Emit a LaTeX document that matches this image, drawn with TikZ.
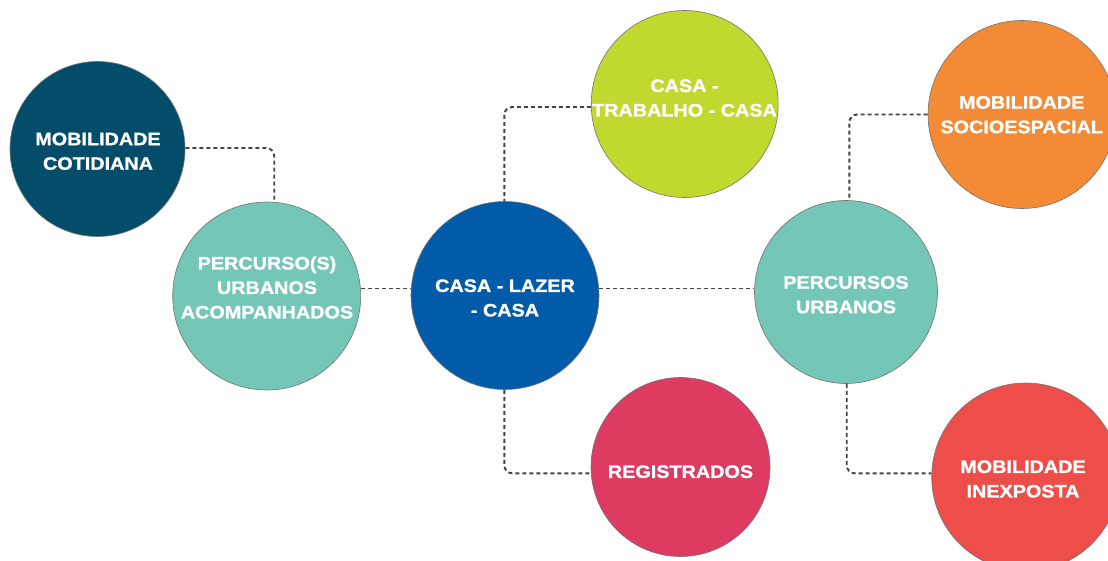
\documentclass[tikz,border=0pt]{standalone}
\usepackage{fontspec}
\newfontfamily\lblfont[FakeStretch=1.1, BoldFeatures={FakeBold=1.2}]{Liberation Sans}
\definecolor{cDark}{HTML}{034D6A}
\definecolor{cTeal}{HTML}{74C6B7}
\definecolor{cBlue}{HTML}{025BA8}
\definecolor{cLime}{HTML}{C2D82F}
\definecolor{cOrange}{HTML}{F38A35}
\definecolor{cPink}{HTML}{DD3B62}
\definecolor{cRed}{HTML}{EE4E4A}
\definecolor{cLine}{HTML}{444444}
\begin{document}
\begin{tikzpicture}[x=1pt,y=-1pt,
  bubble/.style={circle, draw=black!55, line width=0.6pt, inner sep=0pt, minimum size=#1},
  lbl/.style={text=white, font=\lblfont\bfseries\fontsize{18}{24.5}\selectfont, align=center, inner sep=0pt},
  conn/.style={draw=cLine, line width=1.9pt, dash pattern=on 4pt off 3pt, rounded corners=8pt}]
\useasboundingbox (0,0) rectangle (1108,561);
\clip (0,0) rectangle (1108,561);
% circles
\node[bubble=175, fill=cDark]   (mc)  at (97.5,149) {};
\node[bubble=188, fill=cTeal]   (pua) at (266.7,296) {};
\node[bubble=188, fill=cBlue]   (clc) at (505,295.5) {};
\node[bubble=187, fill=cLime]   (ctc) at (684.7,104) {};
\node[bubble=183, fill=cTeal]   (pu)  at (846,292) {};
\node[bubble=188, fill=cOrange] (ms)  at (1022,114.5) {};
\node[bubble=179, fill=cPink]   (reg) at (680.5,467) {};
\node[bubble=188, fill=cRed]    (mi)  at (1025.7,477) {};
% labels
\node[lbl] (mct)  at (98,151.3)   {MOBILIDADE\\COTIDIANA};
\node[lbl] (puat) at (267,287.5)  {PERCURSO(S)\\URBANOS\\ACOMPANHADOS};
\node[lbl] (clct) at (505,298)    {CASA - LAZER\\- CASA};
\node[lbl] (ctct) at (684.5,98)   {CASA -\\TRABALHO - CASA};
\node[lbl] (put)  at (846,294.7)  {PERCURSOS\\URBANOS};
\node[lbl] (mst)  at (1021.7,114.7) {MOBILIDADE\\SOCIOESPACIAL};
\node[lbl] (regt) at (680.5,471.7) {REGISTRADOS};
\node[lbl] (mit)  at (1023,479)   {MOBILIDADE\\INEXPOSTA};
% connectors
\draw[conn] ([yshift=1pt]mc.east) -| ([xshift=7.5pt]pua.north);
\draw[conn] ([yshift=7.5pt]pua.east) -- ([yshift=7pt]clc.west);
\draw[conn] ([yshift=7pt]clc.east) -- ([yshift=3.5pt]pu.west);
\draw[conn] ([yshift=-3pt]ctc.west) -| ([xshift=-0.7pt]clc.north);
\draw[conn] ([xshift=-0.7pt]clc.south) |- ([yshift=-6.3pt]reg.west);
\draw[conn] (ms.west) -| ([xshift=3.3pt]pu.north);
\draw[conn] ([xshift=0.7pt]pu.south) |- ([yshift=3.7pt]mi.west);
\end{tikzpicture}
\end{document}
